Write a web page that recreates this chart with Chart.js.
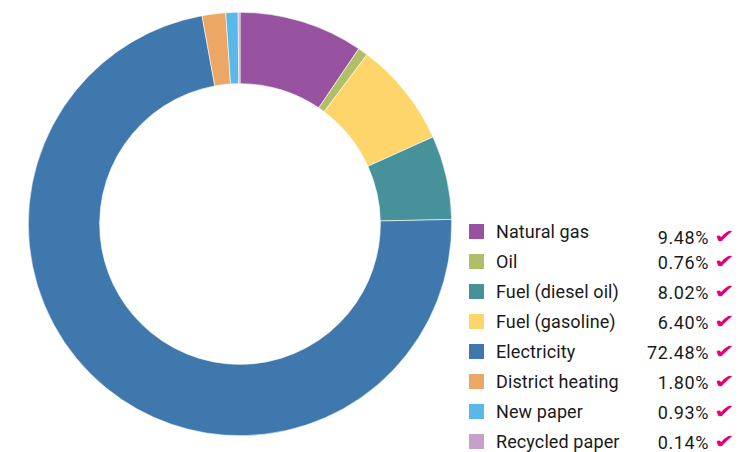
<!DOCTYPE html>
<html>
<head>
<meta charset="utf-8">
<script src="https://cdn.jsdelivr.net/npm/chart.js@4/dist/chart.umd.min.js"></script>
<style>
  html, body { margin: 0; padding: 0; background: #fff; width: 751px; height: 452px; overflow: hidden; }
  #wrap { position: absolute; left: 28px; top: 12px; width: 424px; height: 424px; }
  #legend { position: absolute; left: 469px; top: 217px; width: 270px; font-family: Roboto, "Liberation Sans", sans-serif; font-size: 18px; color: #1a1a1a; }
  .row { position: relative; height: 30px; }
  .sw { position: absolute; left: 0; top: 7px; width: 15px; height: 15px; }
  .lb { position: absolute; left: 27px; top: 4px; white-space: nowrap; letter-spacing: 0.1px; }
  .pc { position: absolute; right: 30px; top: 5px; white-space: nowrap; letter-spacing: 0.6px; }
  .row:first-child .pc { top: 10px; }
  .row:first-child .ck { top: 7px; }
  .ck { position: absolute; left: 245px; top: 2px; color: #E2007A; font-family: "DejaVu Sans", sans-serif; font-size: 20px; font-weight: bold; transform: scale(1.25, 0.95); transform-origin: left center; }
</style>
</head>
<body>
<div id="wrap"><canvas id="c"></canvas></div>
<div id="legend"></div>
<script>
const categories = ["Natural gas", "Oil", "Fuel (diesel oil)", "Fuel (gasoline)", "Electricity", "District heating", "New paper", "Recycled paper"];
const values = [9.48, 0.76, 8.02, 6.40, 72.48, 1.80, 0.93, 0.14];
const percentLabels = ["9.48%", "0.76%", "8.02%", "6.40%", "72.48%", "1.80%", "0.93%", "0.14%"];
const sliceColors = ["#9752A0", "#B1BE68", "#FDD56B", "#46919A", "#3F78AC", "#EDA764", "#58B9E9", "#C6A0CA"];
const legendColors = ["#9752A0", "#B1BE68", "#46919A", "#FDD56B", "#3F78AC", "#EDA764", "#58B9E9", "#C6A0CA"];

new Chart(document.getElementById('c'), {
  type: 'doughnut',
  data: {
    labels: categories,
    datasets: [{
      data: values,
      backgroundColor: sliceColors,
      borderColor: '#ffffff',
      borderWidth: 0.6
    }]
  },
  options: {
    responsive: true,
    maintainAspectRatio: false,
    animation: false,
    cutout: '66.3%',
    layout: { padding: 0 },
    plugins: { legend: { display: false }, tooltip: { enabled: false } }
  }
});

const lg = document.getElementById('legend');
categories.forEach((name, i) => {
  const row = document.createElement('div');
  row.className = 'row';
  row.innerHTML = '<div class="sw" style="background:' + legendColors[i] + '"></div>' +
    '<span class="lb">' + name + '</span>' +
    '<span class="pc">' + percentLabels[i] + '</span>' +
    '<span class="ck">\u2714</span>';
  lg.appendChild(row);
});
</script>
</body>
</html>
